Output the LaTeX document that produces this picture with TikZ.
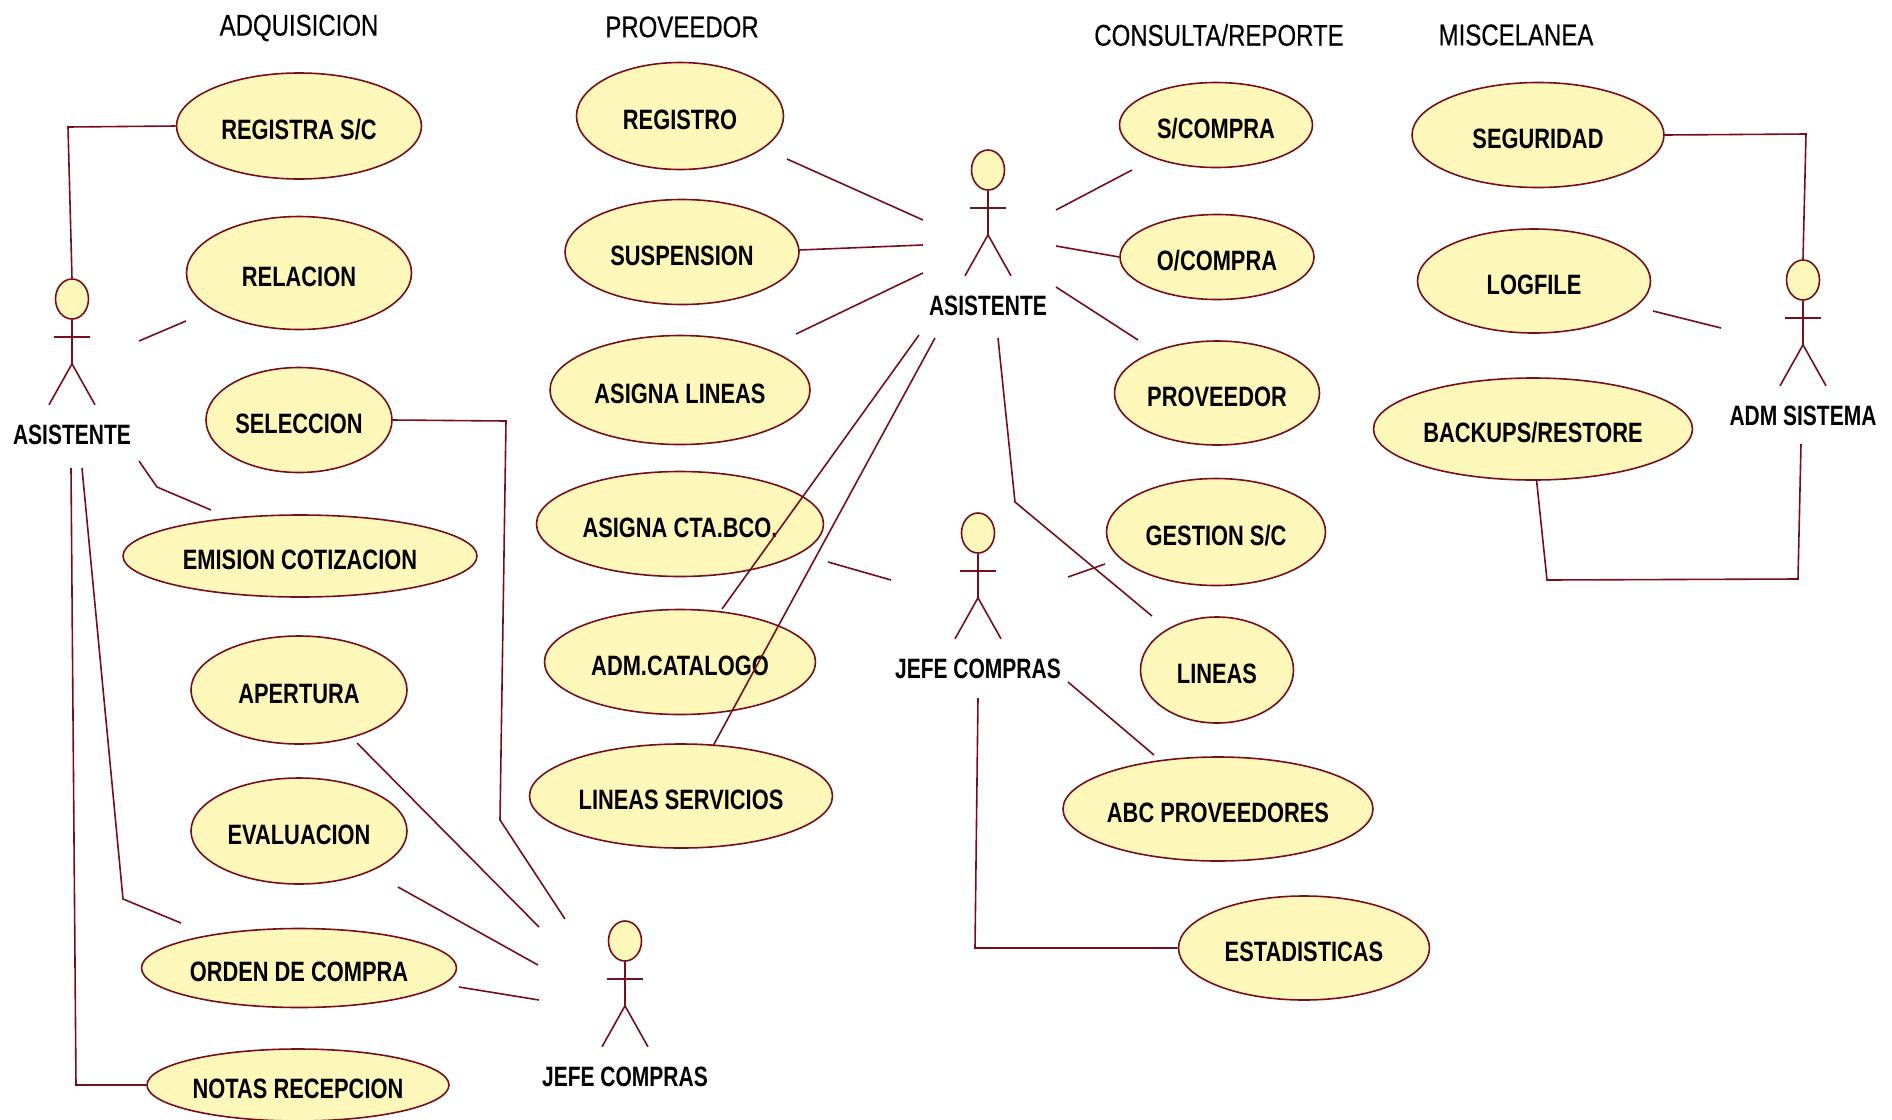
\documentclass[tikz,border=0pt]{standalone}
\usepackage{fontspec}
\setmainfont[FakeStretch=0.78]{Liberation Sans}
\newfontfamily\actorfont[FakeStretch=0.75]{Liberation Sans}
\newfontfamily\titlefont[FakeStretch=0.8,FakeBold=0.4]{Liberation Sans}
\usetikzlibrary{shapes.geometric,calc}
\definecolor{umlline}{RGB}{118,14,28}
\definecolor{umlfill}{RGB}{253,247,185}
\newcommand{\actor}[4]{
  \node[actorhead] (#1) at (#2,#3) {};
  \draw[conn] (#1.south) -- ++(0,44) coordinate (#1hip);
  \draw[conn] ($(#1.south)+(-18,17)$) -- ++(36,0);
  \draw[conn] ($(#1hip)+(-23,41)$) -- (#1hip) -- ++(23,41);
  \node[actorname] (#1name) at (#2,#3+136) {#4};
}

\begin{document}
\begin{tikzpicture}[x=0.5pt,y=-0.5pt,
    usecase/.style 2 args={ellipse,draw=umlline,fill=umlfill,line width=0.8pt,inner ysep=0pt,inner xsep=-20pt,
      minimum width=#1*0.5pt,minimum height=#2*0.5pt,text height=13.5pt,text depth=0pt,
      font=\fontsize{14}{16}\selectfont\bfseries},
    actorhead/.style={ellipse,draw=umlline,fill=umlfill,line width=0.8pt,inner sep=0pt,
      minimum width=16.5pt,minimum height=20pt},
    actorname/.style={inner sep=0pt,font=\fontsize{14}{16}\selectfont\actorfont\bfseries},
    title/.style={inner sep=0pt,font=\fontsize{15}{17}\selectfont\titlefont},
    conn/.style={draw=umlline,line width=0.8pt}]
    \useasboundingbox[fill=white] (0,0) rectangle (1892,1120);
    % Titles
    \node[title] (tadq) at (299,28) {ADQUISICION};
    \node[title] (tprov) at (682,27) {PROVEEDOR};
    \node[title] (tcons) at (1219,35) {CONSULTA/REPORTE};
    \node[title] (tmisc) at (1516,35) {MISCELANEA};
    % Adquisicion
    \node[usecase={245}{106}] (regsc) at (299,126) {REGISTRA S/C};
    \node[usecase={225}{113}] (relacion) at (299,273) {RELACION};
    \node[usecase={186}{105}] (seleccion) at (299,420) {SELECCION};
    \node[usecase={354}{82}] (emision) at (300,556) {EMISION COTIZACION};
    \node[usecase={216}{108}] (apertura) at (299,690) {APERTURA};
    \node[usecase={216}{106}] (evaluacion) at (299,831) {EVALUACION};
    \node[usecase={315}{79}] (orden) at (299,968) {ORDEN DE COMPRA};
    \node[usecase={302}{72}] (notas) at (298,1085) {NOTAS RECEPCION};
    % Proveedor
    \node[usecase={207}{107}] (registro) at (680,116) {REGISTRO};
    \node[usecase={234}{105}] (suspension) at (682,252) {SUSPENSION};
    \node[usecase={260}{109}] (asiglin) at (680,390) {ASIGNA LINEAS};
    \node[usecase={287}{105}] (asigcta) at (680,524) {ASIGNA CTA.BCO.};
    \node[usecase={271}{105}] (catalogo) at (680,662) {ADM.CATALOGO};
    \node[usecase={303}{104}] (linserv) at (681,796) {LINEAS SERVICIOS};
    % Consulta/Reporte
    \node[usecase={193}{85}] (scompra) at (1216,125) {S/COMPRA};
    \node[usecase={194}{85}] (ocompra) at (1217,257) {O/COMPRA};
    \node[usecase={205}{104}] (proveedor) at (1217,393) {PROVEEDOR};
    \node[usecase={219}{107}] (gestion) at (1216,532) {GESTION S/C};
    \node[usecase={153}{106}] (lineas) at (1217,670) {LINEAS};
    \node[usecase={310}{104}] (abc) at (1218,809) {ABC PROVEEDORES};
    \node[usecase={251}{104}] (estad) at (1304,948) {ESTADISTICAS};
    % Miscelanea
    \node[usecase={252}{105}] (seguridad) at (1538,135) {SEGURIDAD};
    \node[usecase={233}{104}] (logfile) at (1534,281) {LOGFILE};
    \node[usecase={319}{102}] (backups) at (1533,429) {BACKUPS/RESTORE};
    % Actors
    \actor{asistA}{72}{299}{ASISTENTE}
    \actor{asistB}{988}{170}{ASISTENTE}
    \actor{jefeA}{978}{533}{JEFE COMPRAS}
    \actor{jefeB}{625}{941}{JEFE COMPRAS}
    \actor{adm}{1803}{280}{ADM SISTEMA}
    % Free ends
    \foreach \n/\x/\y in {a1/139/341,a2/186/321,a3/139/461,a4/157/487,a5/211/510,
        a6/82/468,a7/123/899,a8/181/923,a9/71/468,a10/76/1085,a11/68/127,
        s1/506/421,s2/500/820,s3/565/919,
        b1/357/743,b2/539/927,b3/398/887,b4/538/965,b5/459/987,b6/539/1000,
        c1/787/159,c2/923/220,c3/799/250,c4/923/245,c5/796/334,c6/923/273,
        c7/722/609,c8/919/335,c9/713/746,c10/935/338,c11/828/562,c12/891/580,
        d1/1056/210,d2/1132/170,d3/1056/246,d4/1056/287,d5/1138/340,
        d6/998/338,d7/1015/502,d8/1152/616,d9/1068/577,d10/1105/564,
        d11/1068/682,d12/1154/755,d13/978/698,d14/975/948,
        e1/1806/134,e2/1653/311,e3/1721/328,e4/1547/580,e5/1798/579,e6/1801/444}
      \coordinate (\n) at (\x,\y);
    % Connectors
    \draw[conn] (regsc.west) -- (a11) -- (asistA.north);
    \draw[conn] (a1) -- (a2);
    \draw[conn] (a3) -- (a4) -- (a5);
    \draw[conn] (a6) -- (a7) -- (a8);
    \draw[conn] (a9) -- (a10) -- (notas.west);
    \draw[conn] (seleccion.east) -- (s1) -- (s2) -- (s3);
    \draw[conn] (b1) -- (b2);
    \draw[conn] (b3) -- (b4);
    \draw[conn] (b5) -- (b6);
    \draw[conn] (c1) -- (c2);
    \draw[conn] (c3) -- (c4);
    \draw[conn] (c5) -- (c6);
    \draw[conn] (c7) -- (c8);
    \draw[conn] (c9) -- (c10);
    \draw[conn] (c11) -- (c12);
    \draw[conn] (d1) -- (d2);
    \draw[conn] (d3) -- (ocompra.west);
    \draw[conn] (d4) -- (d5);
    \draw[conn] (d6) -- (d7) -- (d8);
    \draw[conn] (d9) -- (d10);
    \draw[conn] (d11) -- (d12);
    \draw[conn] (d13) -- (d14) -- (estad.west);
    \draw[conn] (seguridad.east) -- (e1) -- (adm.north);
    \draw[conn] (e2) -- (e3);
    \draw[conn] (backups.-86) -- (e4) -- (e5) -- (e6);
\end{tikzpicture}
\end{document}
